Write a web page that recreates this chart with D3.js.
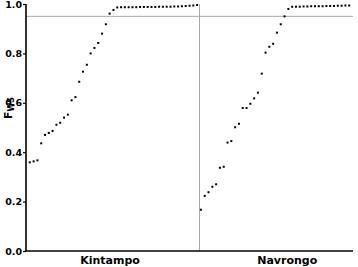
<!DOCTYPE html>
<html><head><meta charset="utf-8">
<script src="https://cdn.jsdelivr.net/npm/d3@7"></script>
<style>body{margin:0;background:#fff}svg{display:block}</style>
</head><body>
<svg id="c" width="358" height="267"></svg>
<script>
const categories = ["Kintampo", "Navrongo"];
const kintampo = [0.359,0.363,0.367,0.436,0.470,0.478,0.486,0.511,0.519,0.540,0.552,0.610,0.623,0.685,0.726,0.754,0.800,0.822,0.842,0.880,0.918,0.961,0.976,
  0.986,0.987,0.987,0.987,0.987,0.987,0.988,0.988,0.988,0.988,0.988,0.989,0.989,0.989,0.989,0.990,0.990,0.991,0.992,0.993,0.994,0.996];
const navrongo = [0.167,0.223,0.238,0.260,0.270,0.337,0.341,0.439,0.445,0.501,0.515,0.579,0.579,0.596,0.618,0.641,0.718,0.803,0.827,0.839,0.884,0.918,0.950,
  0.980,0.989,0.989,0.989,0.990,0.990,0.991,0.991,0.991,0.991,0.992,0.992,0.992,0.993,0.993,0.994,0.994];
const yTicks = [0, 0.2, 0.4, 0.6, 0.8, 1.0];
const threshold = 0.95;

const svg = d3.select("#c");
const series = [kintampo, navrongo];
const total = kintampo.length + navrongo.length;
const x = d3.scaleLinear().domain([-1, total]).range([26, 353]);
const y = d3.scaleLinear().domain([0, 1]).range([251, 4]);

// reference lines
svg.append("line").attr("x1", x(-1)).attr("x2", x(total)).attr("y1", y(threshold)).attr("y2", y(threshold))
  .attr("stroke", "#aaa").attr("stroke-width", 1);
const divIdx = kintampo.length - 0.5;
svg.append("line").attr("x1", Math.round(x(divIdx)) + 0.5).attr("x2", Math.round(x(divIdx)) + 0.5)
  .attr("y1", y(1)).attr("y2", y(0)).attr("stroke", "#aaa").attr("stroke-width", 1);

// points
let offset = 0;
series.forEach(s => {
  const off = offset;
  svg.append("g").selectAll("rect").data(s).join("rect")
    .attr("x", (d, i) => x(off + i) - 1)
    .attr("y", d => y(d) - 1)
    .attr("width", 2).attr("height", 2)
    .attr("fill", "#000");
  offset += s.length;
});

// y axis
const yAxis = d3.axisLeft(y).tickValues(yTicks).tickFormat(d3.format(".1f")).tickSize(3).tickPadding(1);
const gy = svg.append("g").attr("transform", "translate(26,0)").call(yAxis);
gy.select(".domain").attr("stroke", "#000").attr("stroke-width", 1.6).attr("d", `M0,${y(1)}V${y(0)}`);
gy.selectAll(".tick line").attr("stroke", "#000").attr("stroke-width", 1.2);
gy.selectAll("text").attr("font-family", "DejaVu Sans").attr("font-weight", "bold").attr("font-size", 9.5).attr("fill", "#000");

// x axis line
svg.append("line").attr("x1", 25).attr("x2", x(total)).attr("y1", y(0)).attr("y2", y(0))
  .attr("stroke", "#000").attr("stroke-width", 1.6);

// category labels
const labelPos = [21.1, 67.7];
categories.forEach((c, i) => {
  svg.append("text").attr("x", x(labelPos[i])).attr("y", 264).attr("text-anchor", "middle")
    .attr("font-family", "DejaVu Sans").attr("font-weight", "bold").attr("font-size", 11).text(c);
});

// y label
const yl = svg.append("text").attr("transform", "translate(12,119) rotate(-90)")
  .attr("font-family", "DejaVu Sans").attr("font-weight", "bold").attr("font-size", 11);
yl.append("tspan").text("F");
yl.append("tspan").attr("font-size", 8).attr("dy", 2).text("WS");
</script>
</body></html>
